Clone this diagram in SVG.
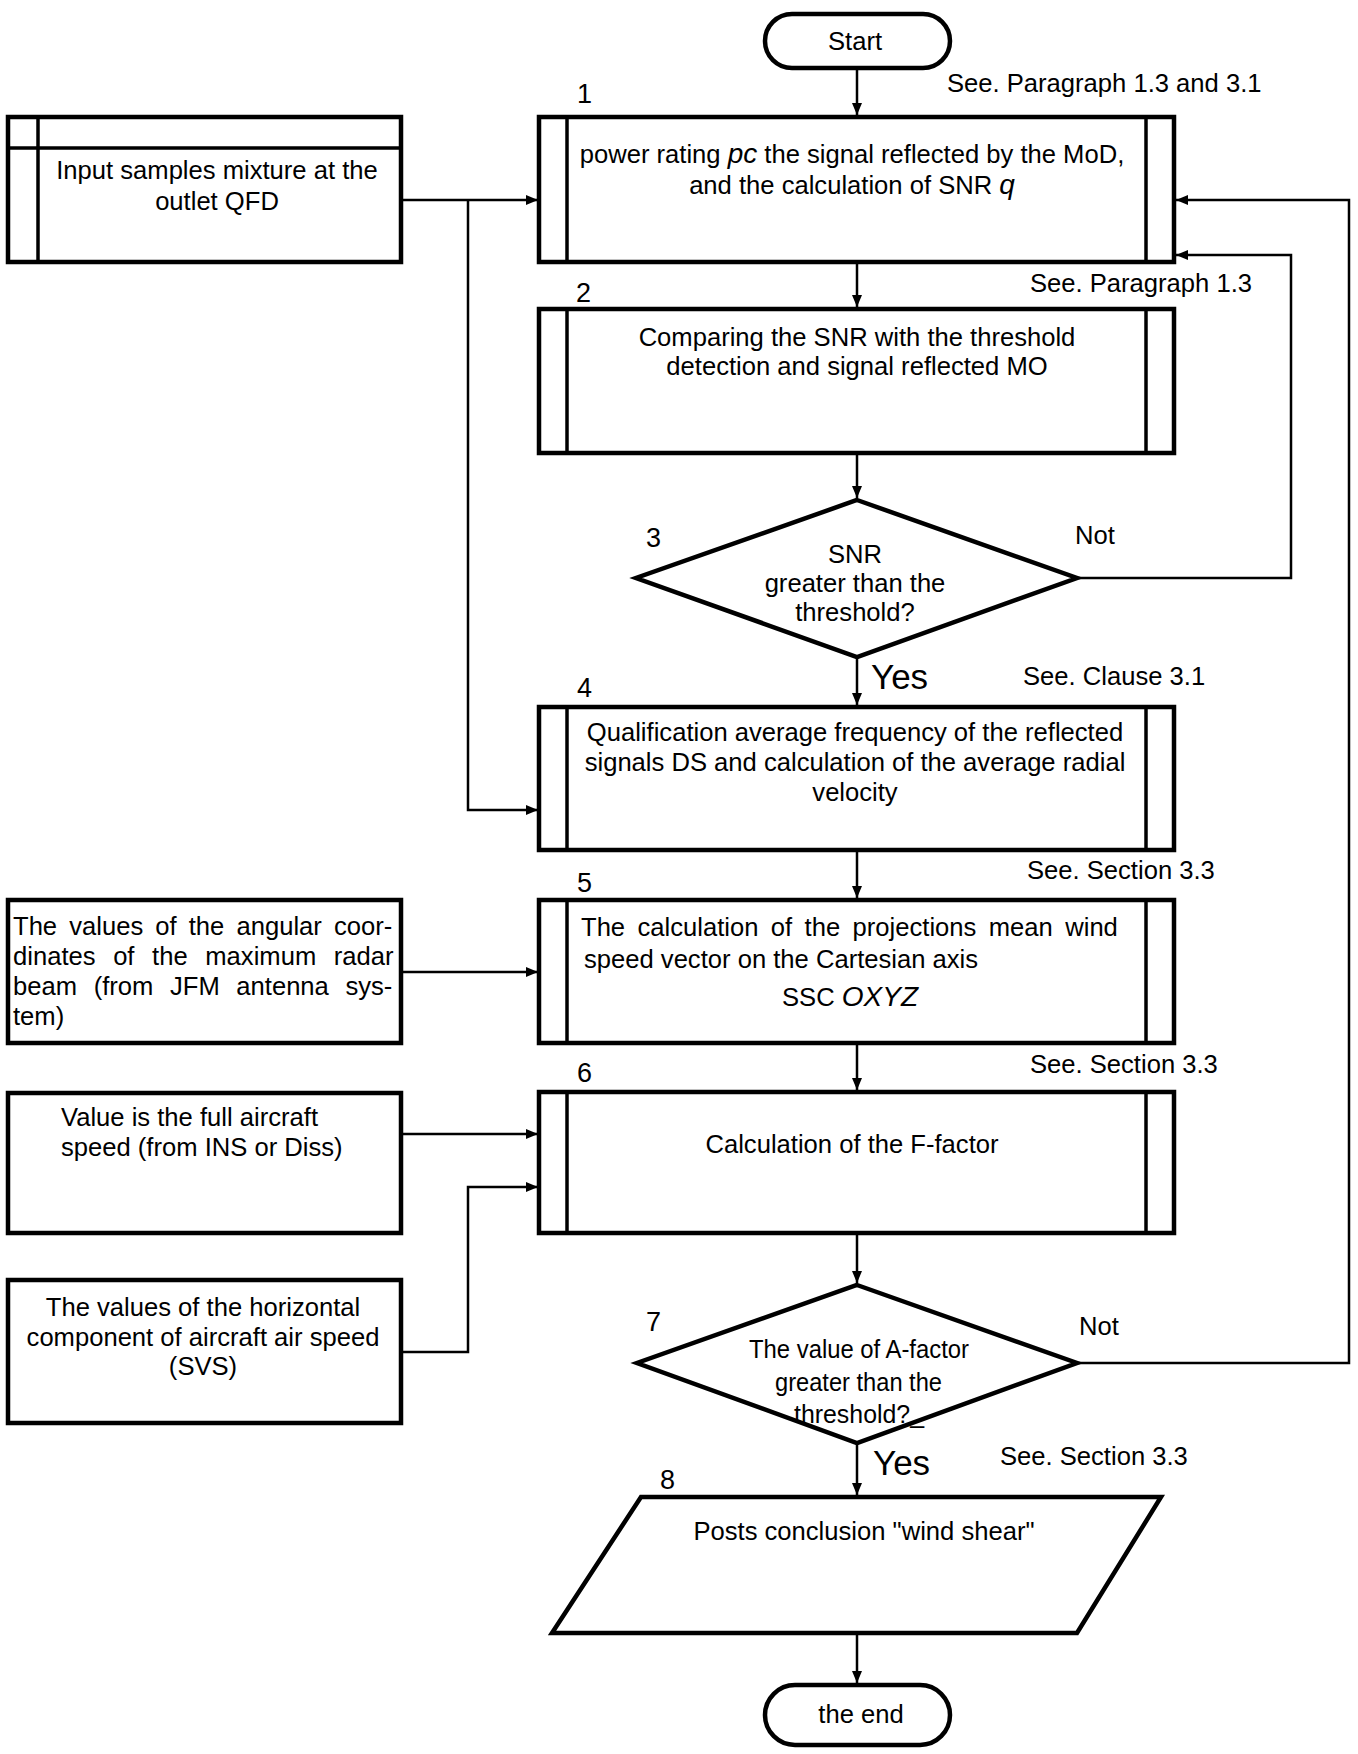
<svg xmlns="http://www.w3.org/2000/svg" width="1358" height="1754" viewBox="0 0 1358 1754">
<style>
text{font-family:"Liberation Sans",Arial,sans-serif;font-size:25.6px;fill:#000}
.c{text-anchor:middle}
.num{font-size:27px}
.yes{font-size:35px}
.box{fill:#fff;stroke:#000;stroke-width:4.5}
.in{stroke:#000;stroke-width:3.5;fill:none}
.ln{stroke:#000;stroke-width:2.5;fill:none}
.it{font-style:italic}
</style>
<defs>
<marker id="ah" markerWidth="12" markerHeight="10" refX="12" refY="5" orient="auto" markerUnits="userSpaceOnUse">
<path d="M0,0 L12,5 L0,10 z" fill="#000"/>
</marker>
</defs>
<rect width="1358" height="1754" fill="#fff"/>

<g id="connectors">
<line class="ln" x1="857" y1="68" x2="857" y2="115" marker-end="url(#ah)"/>
<line class="ln" x1="857" y1="262" x2="857" y2="307" marker-end="url(#ah)"/>
<line class="ln" x1="857" y1="453" x2="857" y2="498" marker-end="url(#ah)"/>
<line class="ln" x1="857" y1="657" x2="857" y2="705" marker-end="url(#ah)"/>
<line class="ln" x1="857" y1="850" x2="857" y2="898" marker-end="url(#ah)"/>
<line class="ln" x1="857" y1="1043" x2="857" y2="1090" marker-end="url(#ah)"/>
<line class="ln" x1="857" y1="1233" x2="857" y2="1283" marker-end="url(#ah)"/>
<line class="ln" x1="857" y1="1443" x2="857" y2="1495" marker-end="url(#ah)"/>
<line class="ln" x1="857" y1="1633" x2="857" y2="1683" marker-end="url(#ah)"/>
<line class="ln" x1="401" y1="200" x2="538" y2="200" marker-end="url(#ah)"/>
<polyline class="ln" points="468,200 468,810 538,810" marker-end="url(#ah)"/>
<line class="ln" x1="401" y1="972" x2="538" y2="972" marker-end="url(#ah)"/>
<line class="ln" x1="401" y1="1134" x2="538" y2="1134" marker-end="url(#ah)"/>
<polyline class="ln" points="401,1352 468,1352 468,1187 538,1187" marker-end="url(#ah)"/>
<polyline class="ln" points="1077,578 1291,578 1291,255 1176,255" marker-end="url(#ah)"/>
<polyline class="ln" points="1077,1363 1349,1363 1349,200 1176,200" marker-end="url(#ah)"/>
</g>

<g id="start">
<rect class="box" x="765" y="14" width="185" height="54" rx="27"/>
<text class="c" x="855" y="50">Start</text>
</g>

<g id="input">
<rect class="box" x="8" y="117" width="393" height="145"/>
<line class="in" x1="38" y1="117" x2="38" y2="262"/>
<line class="in" x1="8" y1="148" x2="401" y2="148"/>
<text class="c" x="217" y="179">Input samples mixture at the</text>
<text class="c" x="217" y="210">outlet QFD</text>
</g>

<g id="n1">
<text class="num" x="577" y="103">1</text>
<rect class="box" x="539" y="117" width="635" height="145"/>
<line class="in" x1="567" y1="117" x2="567" y2="262"/>
<line class="in" x1="1146" y1="117" x2="1146" y2="262"/>
<text class="c" x="852" y="163">power rating <tspan class="it" font-size="28">pc</tspan> the signal reflected by the MoD,</text>
<text class="c" x="852" y="194">and the calculation of SNR <tspan class="it" font-size="28">q</tspan></text>
</g>

<g id="n2">
<text class="num" x="576" y="302">2</text>
<rect class="box" x="539" y="309" width="635" height="144"/>
<line class="in" x1="567" y1="309" x2="567" y2="453"/>
<line class="in" x1="1146" y1="309" x2="1146" y2="453"/>
<text class="c" x="857" y="346">Comparing the SNR with the threshold</text>
<text class="c" x="857" y="375">detection and signal reflected MO</text>
</g>

<g id="n3">
<text class="num" x="646" y="547">3</text>
<polygon class="box" points="857,500 1077,578 857,657 636,578"/>
<text class="c" x="855" y="563">SNR</text>
<text class="c" x="855" y="592">greater than the</text>
<text class="c" x="855" y="621">threshold?</text>
</g>

<g id="n4">
<text class="num" x="577" y="697">4</text>
<rect class="box" x="539" y="707" width="635" height="143"/>
<line class="in" x1="567" y1="707" x2="567" y2="850"/>
<line class="in" x1="1146" y1="707" x2="1146" y2="850"/>
<text class="c" x="855" y="741">Qualification average frequency of the reflected</text>
<text class="c" x="855" y="771">signals DS and calculation of the average radial</text>
<text class="c" x="855" y="801">velocity</text>
</g>

<g id="angular">
<rect class="box" x="8" y="900" width="393" height="143"/>
<text x="13" y="935" word-spacing="5">The values of the angular coor-</text>
<text x="13" y="965" word-spacing="10.5">dinates of the maximum radar</text>
<text x="13" y="995" word-spacing="9.5">beam (from JFM antenna sys-</text>
<text x="13" y="1025">tem)</text>
</g>

<g id="n5">
<text class="num" x="577" y="892">5</text>
<rect class="box" x="539" y="900" width="635" height="143"/>
<line class="in" x1="567" y1="900" x2="567" y2="1043"/>
<line class="in" x1="1146" y1="900" x2="1146" y2="1043"/>
<text x="581" y="936" word-spacing="5.3">The calculation of the projections mean wind</text>
<text x="584" y="968">speed vector on the Cartesian axis</text>
<text class="c" x="850" y="1006">SSC <tspan class="it" font-size="28">OXYZ</tspan></text>
</g>

<g id="value">
<rect class="box" x="8" y="1093" width="393" height="140"/>
<text x="61" y="1126">Value is the full aircraft</text>
<text x="61" y="1156">speed (from INS or Diss)</text>
</g>

<g id="svs">
<rect class="box" x="8" y="1280" width="393" height="143"/>
<text class="c" x="203" y="1316">The values of the horizontal</text>
<text class="c" x="203" y="1346">component of aircraft air speed</text>
<text class="c" x="203" y="1375">(SVS)</text>
</g>

<g id="n6">
<text class="num" x="577" y="1082">6</text>
<rect class="box" x="539" y="1092" width="635" height="141"/>
<line class="in" x1="567" y1="1092" x2="567" y2="1233"/>
<line class="in" x1="1146" y1="1092" x2="1146" y2="1233"/>
<text class="c" x="852" y="1153">Calculation of the F-factor</text>
</g>

<g id="n7">
<text class="num" x="646" y="1331">7</text>
<polygon class="box" points="857,1285 1077,1363 857,1443 637,1363"/>
<text x="749" y="1358" font-size="28" textLength="220" lengthAdjust="spacingAndGlyphs">The value of A-factor</text>
<text x="775" y="1391" font-size="28" textLength="167" lengthAdjust="spacingAndGlyphs">greater than the</text>
<text x="794" y="1423" font-size="28" textLength="130" lengthAdjust="spacingAndGlyphs">threshold?_</text>
</g>

<g id="n8">
<text class="num" x="660" y="1489">8</text>
<polygon class="box" points="641,1497 1161,1497 1077,1633 552,1633"/>
<text class="c" x="864" y="1540">Posts conclusion "wind shear"</text>
</g>

<g id="end">
<rect class="box" x="765" y="1685" width="185" height="60" rx="30"/>
<text class="c" x="861" y="1723">the end</text>
</g>

<g id="labels">
<text x="947" y="92">See. Paragraph 1.3 and 3.1</text>
<text x="1030" y="292">See. Paragraph 1.3</text>
<text x="1075" y="544">Not</text>
<text class="yes" x="871" y="689">Yes</text>
<text x="1023" y="685">See. Clause 3.1</text>
<text x="1027" y="879">See. Section 3.3</text>
<text x="1030" y="1073">See. Section 3.3</text>
<text x="1079" y="1335">Not</text>
<text class="yes" x="873" y="1475">Yes</text>
<text x="1000" y="1465">See. Section 3.3</text>
</g>
</svg>
